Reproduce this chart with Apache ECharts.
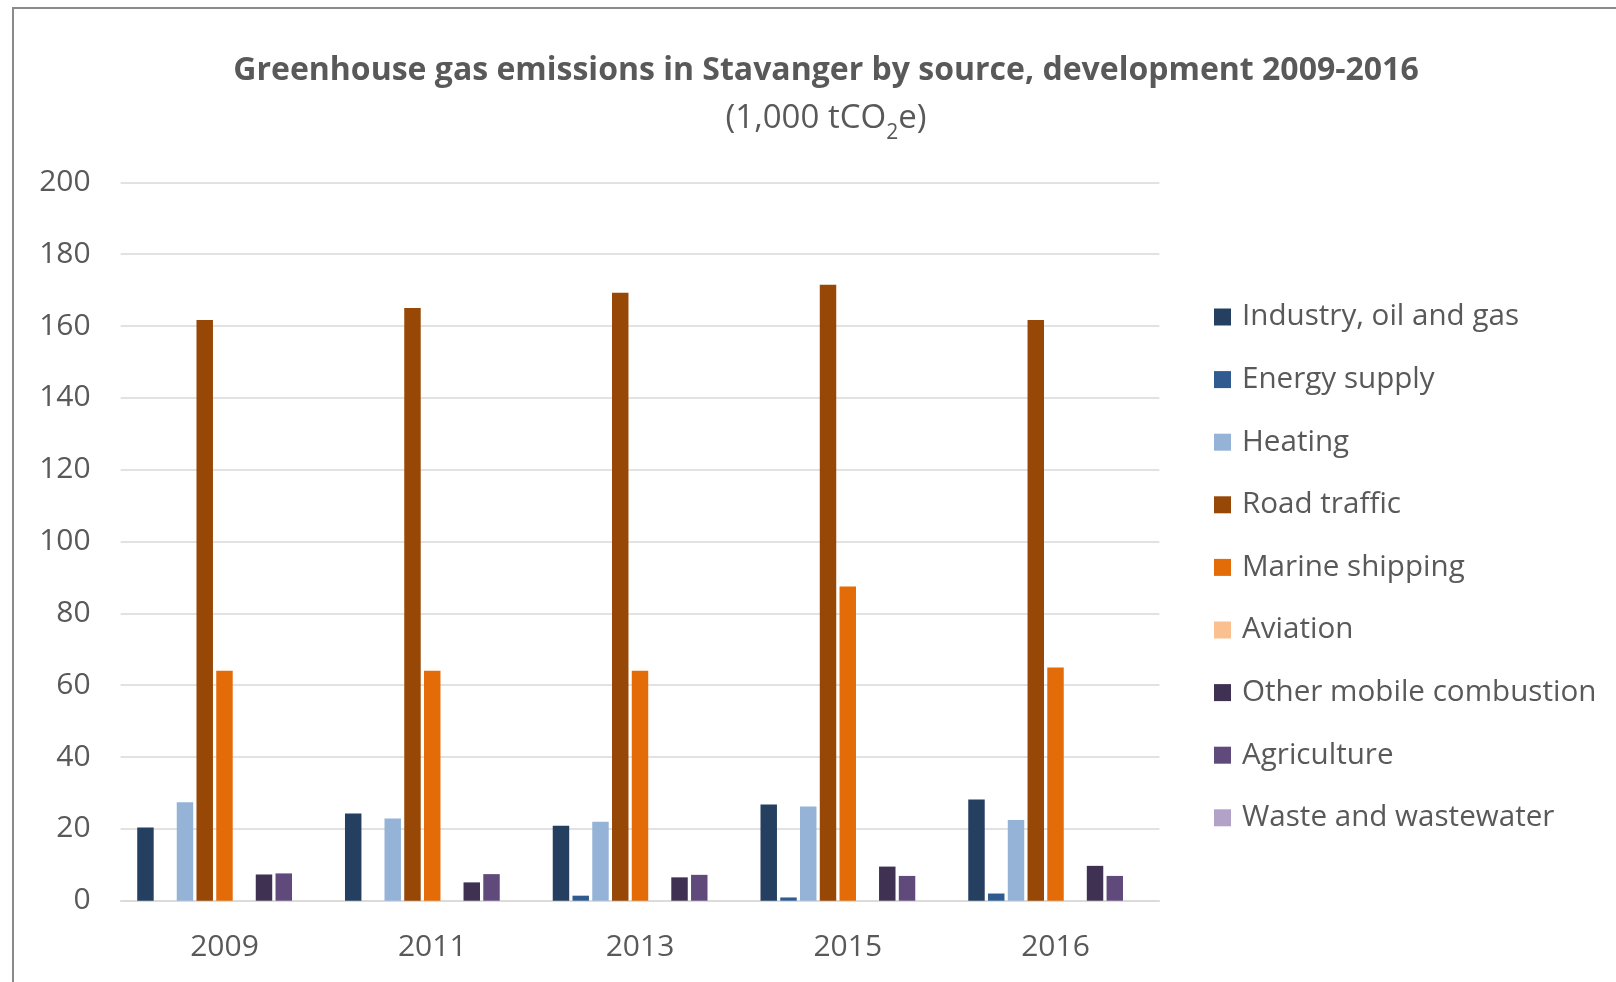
<!DOCTYPE html>
<html>
<head>
<meta charset="utf-8">
<script src="https://cdn.jsdelivr.net/npm/echarts@6/dist/echarts.min.js"></script>
<style>
html,body{margin:0;padding:0;background:#fff;}
#chart{width:1616px;height:982px;}
</style>
</head>
<body>
<div id="chart"></div>
<script>
const years = ['2009', '2011', '2013', '2015', '2016'];
const seriesNames = ['Industry, oil and gas', 'Energy supply', 'Heating', 'Road traffic', 'Marine shipping', 'Aviation', 'Other mobile combustion', 'Agriculture', 'Waste and wastewater'];
const industry = [20.4, 24.3, 20.9, 26.8, 28.2];
const energySupply = [0, 0, 1.4, 0.9, 2.0];
const heating = [27.4, 22.9, 22.0, 26.2, 22.5];
const roadTraffic = [161.7, 165, 169.3, 171.5, 161.7];
const marineShipping = [64, 64, 64, 87.5, 64.9];
const aviation = [0, 0, 0, 0, 0];
const otherMobile = [7.3, 5.1, 6.5, 9.5, 9.7];
const agriculture = [7.6, 7.4, 7.2, 6.9, 6.9];
const waste = [0, 0, 0, 0, 0];
const yTicks = { min: 0, max: 200, interval: 20 };

const seriesData = [industry, energySupply, heating, roadTraffic, marineShipping, aviation, otherMobile, agriculture, waste];
const colors = ['#243F60', '#2F5B91', '#95B3D7', '#974706', '#E36C09', '#FAC090', '#3F3151', '#604A7B', '#B2A2C7'];

const fontFamily = '"Open Sans", "Noto Sans", sans-serif';
const textColor = '#595959';

const chart = echarts.init(document.getElementById('chart'));
chart.setOption({
  animation: false,
  color: colors,
  textStyle: { fontFamily: fontFamily },
  graphic: [
    { type: 'rect', shape: { x: 13, y: 8, width: 1700, height: 1100 }, style: { fill: 'none', stroke: '#8a8a8a', lineWidth: 2 }, silent: true, z: 100 },
    { type: 'text', x: 826, y: 71, style: { text: 'Greenhouse gas emissions in Stavanger by source, development 2009-2016', fontFamily: fontFamily, fontWeight: 'bold', fontSize: 32, fill: textColor, align: 'center', verticalAlign: 'middle' } },
    { type: 'text', x: 826, y: 119, style: { text: '(1,000 tCO{sub|2}e)', fontFamily: fontFamily, fontSize: 33, fill: textColor, align: 'center', verticalAlign: 'middle', rich: { sub: { fontSize: 21, fontFamily: fontFamily, fill: textColor, verticalAlign: 'bottom', lineHeight: 50 } } } }
  ],
  legend: {
    orient: 'vertical',
    left: 1209,
    top: 297,
    itemWidth: 17,
    itemHeight: 17,
    itemGap: 32.6,
    icon: 'rect',
    data: seriesNames,
    textStyle: { fontSize: 29.6, color: textColor, lineHeight: 30, fontFamily: fontFamily, padding: [0, 0, 0, 6] }
  },
  grid: { left: 120.6, right: 456.6, top: 182.4, bottom: 81.3 },
  xAxis: {
    type: 'category',
    data: years,
    axisLine: { lineStyle: { color: '#d9d9d9', width: 1.5 } },
    axisTick: { show: false },
    axisLabel: { color: textColor, fontSize: 30, margin: 32, fontFamily: fontFamily }
  },
  yAxis: {
    type: 'value',
    min: yTicks.min,
    max: yTicks.max,
    interval: yTicks.interval,
    axisLine: { show: false },
    axisTick: { show: false },
    splitLine: { lineStyle: { color: '#d9d9d9', width: 1.5 } },
    axisLabel: { color: textColor, fontSize: 30, margin: 30, fontFamily: fontFamily }
  },
  series: seriesNames.map((name, i) => ({
    name: name,
    type: 'bar',
    data: seriesData[i],
    barGap: '20%',
    barCategoryGap: '16%',
    itemStyle: { color: colors[i] }
  }))
});
</script>
</body>
</html>
